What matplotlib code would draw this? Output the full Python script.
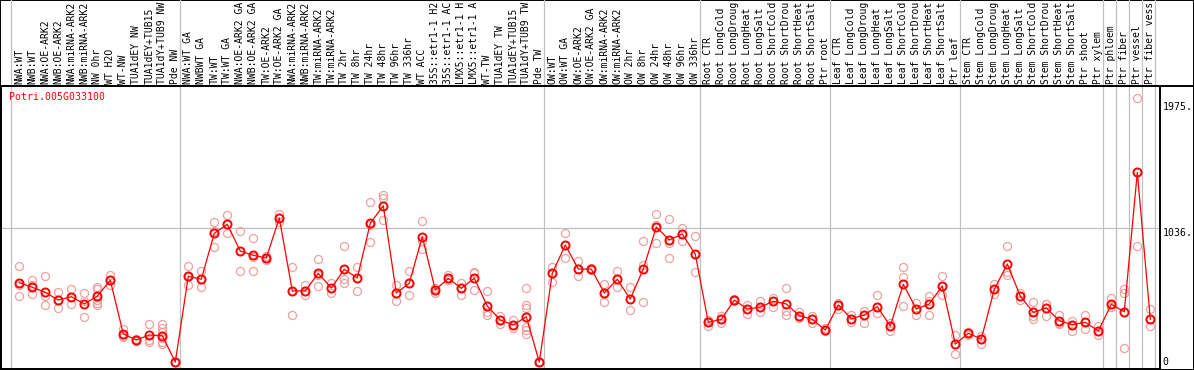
import numpy as np
import matplotlib
matplotlib.use("Agg")
import matplotlib.pyplot as plt
from matplotlib.lines import Line2D

plt.rcParams['font.family'] = ['DejaVu Sans Mono']

gene = "Potri.005G033100"

# header labels, as far as they are visible in the picture (cut at the top edge)
labels = [
    "NWA:WT", "NWB:WT", "NWA:OE-ARK2", "NWB:OE-ARK2", "NWA:miRNA-ARK2", "NWB:miRNA-ARK2",
    "NW 0hr", "WT H2O", "WT-NW", "TUA1dEY NW", "TUA1dEY+TUB15", "TUA1dY+TUB9 NW", "Pde NW",
    "NWA:WT GA", "NWBWT GA", "TW:WT", "TW:WT GA", "NWA:OE-ARK2 GA", "NWB:OE-ARK2 GA",
    "TW:OE-ARK2", "TW:OE-ARK2 GA", "NWA:miRNA-ARK2", "NWB:miRNA-ARK2", "TW:miRNA-ARK2",
    "TW:miRNA-ARK2", "TW 2hr", "TW 8hr", "TW 24hr", "TW 48hr", "TW 96hr", "TW 336hr", "WT ACC",
    "35S::etr1-1 H2", "35S::etr1-1 AC", "LMX5::etr1-1 H", "LMX5::etr1-1 A", "WT-TW",
    "TUA1dEY TW", "TUA1dEY+TUB15", "TUA1dY+TUB9 TW", "Pde TW",
    "OW:WT", "OW:WT GA", "OW:OE-ARK2", "OW:OE-ARK2 GA", "OW:miRNA-ARK2", "OW:miRNA-ARK2",
    "OW 2hr", "OW 8hr", "OW 24hr", "OW 48hr", "OW 96hr", "OW 336hr",
    "Root CTR", "Root LongCold", "Root LongDroug", "Root LongHeat", "Root LongSalt",
    "Root ShortCold", "Root ShortDrou", "Root ShortHeat", "Root ShortSalt", "Ptr root",
    "Leaf CTR", "Leaf LongCold", "Leaf LongDroug", "Leaf LongHeat", "Leaf LongSalt",
    "Leaf ShortCold", "Leaf ShortDrou", "Leaf ShortHeat", "Leaf ShortSalt", "Ptr leaf",
    "Stem CTR", "Stem LongCold", "Stem LongDroug", "Stem LongHeat", "Stem LongSalt",
    "Stem ShortCold", "Stem ShortDrou", "Stem ShortHeat", "Stem ShortSalt", "Ptr shoot",
    "Ptr xylem", "Ptr phloem", "Ptr fiber", "Ptr vessel", "Ptr fiber vess",
]

means = [
    613, 578, 539, 479, 505, 449, 510, 632, 217, 170, 209, 203, 0,
    663, 640, 995, 1065, 858, 825, 804, 1114, 549, 551, 686, 572, 717, 650, 1073, 1209,
    534, 609, 969, 557, 647, 570, 647, 433, 325, 286, 350, 0,
    686, 905, 719, 719, 534, 640, 487, 719, 1044, 944, 990, 833,
    307, 330, 479, 410, 425, 469, 449, 358, 330, 247,
    441, 335, 364, 428, 278, 601, 410, 449, 588, 139,
    222, 178, 562, 758, 510, 384, 418, 319, 289, 307, 240,
    446, 389, 1467, 330,
]

reps = [
    [740, 595, 510], [634, 595, 523], [665, 510, 441], [539, 483, 415], [565, 500, 451],
    [531, 472, 346], [578, 565, 479, 455, 441], [673, 632, 595], [255, 205, 196],
    [178, 170, 160], [294, 170, 157], [291, 261, 235, 183, 157, 139], [0, 0, 0],
    [740, 654, 595], [706, 640, 578], [1083, 1010, 892], [1135, 1065, 995], [1013, 858, 704],
    [957, 814, 704], [818, 804, 790], [1142, 1114, 1085], [735, 549, 364], [595, 551, 518],
    [797, 673, 588], [609, 572, 536], [895, 640, 609], [737, 650, 549], [1235, 1058, 926],
    [1294, 1266, 1098], [593, 534, 472], [704, 609, 518], [1090, 938, 872], [570, 557, 536],
    [673, 647, 634], [613, 570, 518], [698, 686, 557], [549, 389, 364], [358, 325, 291],
    [325, 286, 261], [570, 441, 415, 273, 247, 217], [0, 0, 0],
    [737, 686, 621], [998, 905, 802], [783, 719, 665], [730, 719, 708], [601, 534, 462],
    [704, 640, 583], [580, 487, 402], [936, 750, 462], [1142, 1060, 918], [1104, 918, 802],
    [1034, 990, 938], [972, 833, 694],
    [325, 307, 281], [358, 330, 299], [490, 479, 470], [438, 410, 369], [472, 425, 389],
    [497, 469, 428], [570, 394, 361], [389, 358, 338], [358, 330, 299], [265, 247, 242],
    [459, 441, 408], [361, 335, 309], [397, 364, 304], [518, 428, 377], [304, 278, 242],
    [732, 655, 433], [454, 410, 364], [510, 473, 364], [665, 588, 518], [209, 139, 62],
    [235, 222, 209], [203, 178, 137], [603, 562, 526], [895, 698, 673], [531, 510, 479],
    [462, 358, 333], [452, 449, 353], [364, 305, 291], [319, 289, 242], [364, 307, 253],
    [281, 240, 209],
    [493, 446, 428], [565, 531, 106], [2039, 1467, 895], [410, 330, 278],
]

# last index of each group (separator drawn just after it)
group_ends = [-1, 12, 40, 52, 62, 72, 83, 84, 85, 86, 87]
yticks = [0, 1036, 1975]
ytick_labels = ["0", "1036.", "1975."]

W, H = 1194, 370
fig = plt.figure(figsize=(W / 100, H / 100), dpi=100)
fig.patch.set_facecolor("white")

# outer frame
bg = fig.add_axes([0, 0, 1, 1])
bg.set_xticks([])
bg.set_yticks([])
for s in bg.spines.values():
    s.set_linewidth(1.4)
    s.set_color("black")
bg.patch.set_alpha(0)

# main plot area (px 1..1160 wide, px 86..369 tall)
ax = fig.add_axes([1 / W, 1 / H, 1159 / W, 283 / H])
ax.patch.set_alpha(0)
x = np.arange(len(labels))
ax.set_xlim((1 - 19.3) / 13.0, (1160 - 19.3) / 13.0)
ax.set_ylim(-54, 2134.5)
ax.set_xticks([])
ax.set_yticks([])
for s in ax.spines.values():
    s.set_linewidth(1.4)
    s.set_color("black")

for g in group_ends:
    ax.axvline(g + 0.38, ymin=0, ymax=1 + 86 / 283, color="#c0c0c0", lw=0.9,
               clip_on=False, zorder=1)
ax.axhline(1036, color="#c0c0c0", lw=0.9, zorder=1)

for i, r in enumerate(reps):
    ax.plot([i] * len(r), r, "o", ms=5.8, mfc="none", mec="#f0a0a0", mew=0.9, zorder=2)
ax.plot(x, means, "-", color="red", lw=0.9, zorder=3)
ax.plot(x, means, "o", ms=5.8, mfc="none", mec="red", mew=1.4, zorder=4)

ax.text(8.3 / 1159, (369 - 97) / 283, gene, transform=ax.transAxes, color="red",
        fontsize=7.1, va="center", ha="left")

ytrans = ax.get_yaxis_transform()
for v, t in zip(yticks, ytick_labels):
    va = "top" if v == 1036 else "center"
    ax.text(1 + 2.5 / 1159, v, t, transform=ytrans, fontsize=7.1, va=va, ha="left",
            clip_on=False)

# header labels (rotated), bottom at px 84
xtrans = ax.get_xaxis_transform()
for i, lab in enumerate(labels):
    ax.text(i, 1 + 2 / 283, lab, transform=xtrans, rotation=90, fontsize=7.0,
            ha="center", va="bottom", clip_on=False)

fig.add_artist(Line2D([0, 1], [(H - 86) / H, (H - 86) / H], color="black", lw=1.4))

fig.savefig("out.png", dpi=100)
